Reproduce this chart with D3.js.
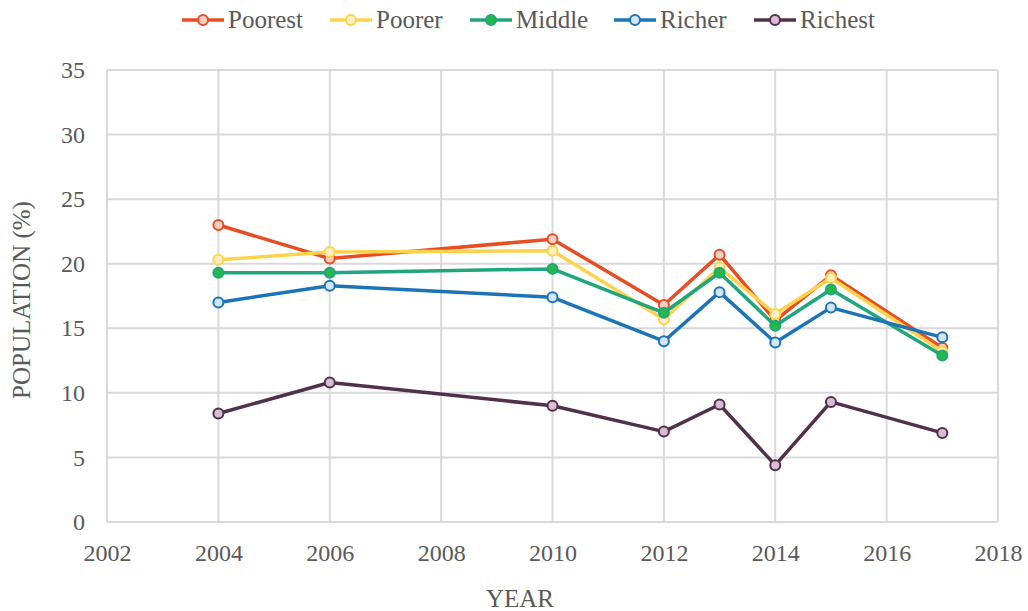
<!DOCTYPE html>
<html>
<head>
<meta charset="utf-8">
<script src="https://cdn.jsdelivr.net/npm/d3@7"></script>
<style>
  body { margin: 0; background: #fff; }
  svg text { font-family: "Liberation Serif", "Times New Roman", serif !important; fill: #595959; }
</style>
</head>
<body>
<svg id="container" width="1028" height="611"></svg>
<script>
const years = [2004, 2006, 2010, 2012, 2013, 2014, 2015, 2017];
const seriesNames = ["Poorest", "Poorer", "Middle", "Richer", "Richest"];
const poorest = [23.0, 20.4, 21.9, 16.8, 20.7, 15.6, 19.1, 13.5];
const poorer = [20.3, 20.9, 21.0, 15.7, 19.7, 16.1, 18.9, 13.2];
const middle = [19.3, 19.3, 19.6, 16.2, 19.3, 15.2, 18.0, 12.9];
const richer = [17.0, 18.3, 17.4, 14.0, 17.8, 13.9, 16.6, 14.3];
const richest = [8.4, 10.8, 9.0, 7.0, 9.1, 4.4, 9.3, 6.9];
const xTicks = [2002, 2004, 2006, 2008, 2010, 2012, 2014, 2016, 2018];
const yTicks = [0, 5, 10, 15, 20, 25, 30, 35];

const colors = ["#e84c22", "#fdd34d", "#20a57c", "#1b73b8", "#51304c"];
const fills = ["#f9cfc4", "#fff1bd", "#25b94c", "#d2e6f7", "#d9bdd6"];
const values = [poorest, poorer, middle, richer, richest];

const svg = d3.select("#container");
const plotLeft = 107, plotRight = 998, plotTop = 70, plotBottom = 522;

const x = d3.scaleLinear().domain([2002, 2018]).range([plotLeft, plotRight]);
const y = d3.scaleLinear().domain([0, 35]).range([plotBottom, plotTop]);

// gridlines
svg.append("g")
  .selectAll("line")
  .data(yTicks)
  .enter()
  .append("line")
  .attr("x1", plotLeft).attr("x2", plotRight)
  .attr("y1", (d) => y(d)).attr("y2", (d) => y(d))
  .attr("stroke", "#d9d9d9").attr("stroke-width", 2);

svg.append("g")
  .selectAll("line")
  .data(xTicks)
  .enter()
  .append("line")
  .attr("x1", (d) => x(d)).attr("x2", (d) => x(d))
  .attr("y1", plotTop).attr("y2", plotBottom)
  .attr("stroke", "#d9d9d9").attr("stroke-width", 2);

// axes (labels only)
const yAxis = svg.append("g")
  .attr("transform", `translate(${plotLeft},0)`)
  .call(d3.axisLeft(y).tickValues(yTicks).tickSize(0).tickPadding(22));
const xAxis = svg.append("g")
  .attr("transform", `translate(0,${plotBottom})`)
  .call(d3.axisBottom(x).tickValues(xTicks).tickFormat(d3.format("d")).tickSize(0).tickPadding(22));
[yAxis, xAxis].forEach((g) => {
  g.attr("font-family", null).attr("font-size", null);
  g.select(".domain").remove();
  g.selectAll("text")
    .style("font-family", "'Liberation Serif', serif")
    .style("font-size", "24px")
    .attr("fill", "#595959");
});

// axis titles
svg.append("text")
  .attr("transform", "translate(30,300) rotate(-90)")
  .attr("text-anchor", "middle")
  .attr("font-size", 25)
  .text("POPULATION (%)");
svg.append("text")
  .attr("x", 520).attr("y", 607)
  .attr("text-anchor", "middle")
  .attr("font-size", 25)
  .text("YEAR");

// lines + markers
const line = d3.line()
  .x((d, i) => x(years[i]))
  .y((d) => y(d));

values.forEach((vals, s) => {
  svg.append("path")
    .datum(vals)
    .attr("fill", "none")
    .attr("stroke", colors[s])
    .attr("stroke-width", 3.5)
    .attr("stroke-linejoin", "round")
    .attr("d", line);
  svg.append("g")
    .selectAll("circle")
    .data(vals)
    .enter()
    .append("circle")
    .attr("cx", (d, i) => x(years[i]))
    .attr("cy", (d) => y(d))
    .attr("r", 5)
    .attr("fill", fills[s])
    .attr("stroke", colors[s])
    .attr("stroke-width", 2);
});

// legend
const legendX = [182, 330, 470, 614, 754];
const legend = svg.append("g")
  .selectAll("g")
  .data(seriesNames)
  .enter()
  .append("g")
  .attr("transform", (d, i) => `translate(${legendX[i]},20)`);
legend.append("line")
  .attr("x1", 0).attr("x2", 42)
  .attr("stroke", (d, i) => colors[i])
  .attr("stroke-width", 3.5);
legend.append("circle")
  .attr("cx", 21).attr("r", 5)
  .attr("fill", (d, i) => fills[i])
  .attr("stroke", (d, i) => colors[i])
  .attr("stroke-width", 2);
legend.append("text")
  .attr("x", 46).attr("y", 8)
  .attr("font-size", 25)
  .text((d) => d);
</script>
</body>
</html>
